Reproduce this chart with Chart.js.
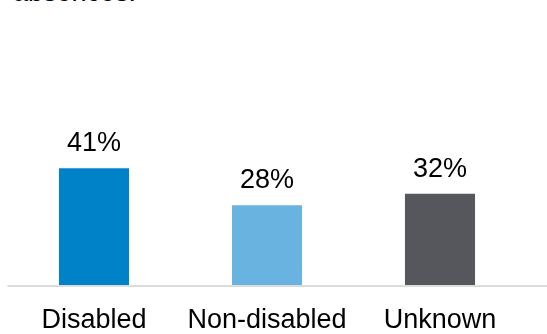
<!DOCTYPE html>
<html>
<head>
<meta charset="utf-8">
<script src="https://cdn.jsdelivr.net/npm/chart.js@4.4.1/dist/chart.umd.min.js"></script>
<style>
  html, body { margin: 0; padding: 0; background: #fff; }
  #wrap { position: relative; width: 547px; height: 334px; overflow: hidden; }
  #note { position: absolute; left: 13px; top: -21px; font: 27px "Liberation Sans", Arial, sans-serif; line-height: 27px; color: #000; white-space: nowrap; }
  canvas { position: absolute; left: 0; top: 0; }
</style>
</head>
<body>
<div id="wrap">
  <div id="note">absences.</div>
  <canvas id="myBarChart" width="547" height="334"></canvas>
</div>
<script>
// chart values
const categories = ['Disabled', 'Non-disabled', 'Unknown'];
const shares = [41, 28, 32];
const barColours = ['#0082c8', '#68b3e0', '#56575c'];

const fontFamily = '"Liberation Sans", Arial, sans-serif';

// value labels above each bar (no datalabels plugin available offline)
const valueLabels = {
  id: 'valueLabels',
  afterDatasetsDraw(chart) {
    const ctx = chart.ctx;
    const meta = chart.getDatasetMeta(0);
    ctx.save();
    ctx.font = '27px ' + fontFamily;
    ctx.fillStyle = '#000';
    ctx.textAlign = 'center';
    ctx.textBaseline = 'alphabetic';
    meta.data.forEach((bar, i) => {
      ctx.fillText(shares[i] + '%', bar.x, bar.y - 17);
    });
    ctx.restore();
  }
};

// grey baseline running out to the right edge
const baseLine = {
  id: 'baseLine',
  afterDatasetsDraw(chart) {
    const ctx = chart.ctx;
    const y = chart.scales.y.getPixelForValue(0);
    ctx.save();
    ctx.strokeStyle = '#dcdcdc';
    ctx.lineWidth = 2;
    ctx.beginPath();
    ctx.moveTo(chart.chartArea.left, y + 1);
    ctx.lineTo(chart.width, y + 1);
    ctx.stroke();
    ctx.restore();
  }
};

const chartData = {
  labels: categories,
  datasets: [{
    data: shares,
    backgroundColor: barColours,
    borderWidth: 0,
    categoryPercentage: 1,
    barPercentage: 0.405
  }]
};

const chartOptions = {
  responsive: false,
  animation: false,
  layout: { padding: { left: 7.5, right: 20.5, top: 0, bottom: 0 } },
  plugins: { legend: { display: false }, tooltip: { enabled: false } },
  scales: {
    x: {
      grid: { display: false, drawTicks: false },
      border: { display: false },
      ticks: { color: '#000', padding: 19, font: { family: fontFamily, size: 27 } },
      afterFit(scale) { scale.height = 49; }
    },
    y: {
      display: false,
      min: 0,
      max: 100
    }
  }
};

new Chart(document.getElementById('myBarChart'), {
  type: 'bar',
  data: chartData,
  options: chartOptions,
  plugins: [valueLabels, baseLine]
});
</script>
</body>
</html>
